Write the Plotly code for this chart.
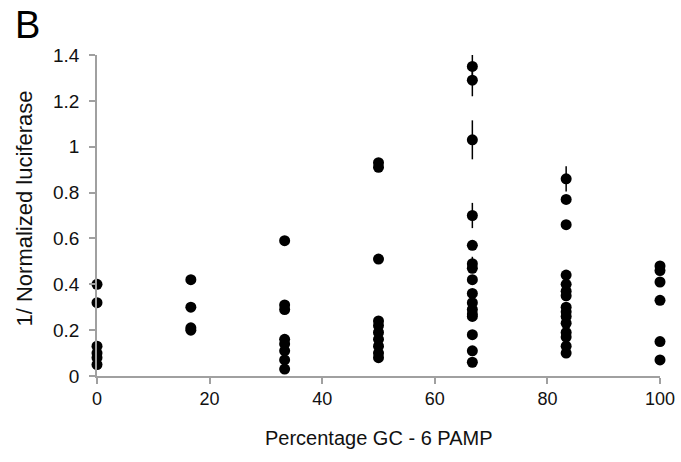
import plotly.graph_objects as go

# GC percentage groups (6 PAMP)
gc_groups = [0, 16.67, 33.33, 50, 66.67, 83.33, 100]

vals_0 = [0.40, 0.32, 0.13, 0.10, 0.08, 0.05]
vals_17 = [0.42, 0.30, 0.21, 0.20]
vals_33 = [0.59, 0.31, 0.29, 0.16, 0.14, 0.11, 0.07, 0.03]
vals_50 = [0.93, 0.91, 0.51, 0.24, 0.22, 0.19, 0.16, 0.13, 0.10, 0.08]
vals_67 = [1.35, 1.29, 1.03, 0.70, 0.57, 0.49, 0.47, 0.42, 0.36, 0.32, 0.29, 0.27, 0.26, 0.18, 0.11, 0.06]
vals_83 = [0.86, 0.77, 0.66, 0.44, 0.40, 0.37, 0.35, 0.30, 0.28, 0.26, 0.23, 0.19, 0.17, 0.13, 0.10]
vals_100 = [0.48, 0.46, 0.41, 0.33, 0.15, 0.07]

err_0 = [0] * 6
err_17 = [0] * 4
err_33 = [0] * 8
err_50 = [0] * 10
err_67 = [0.06, 0.07, 0.085, 0.055, 0, 0.03, 0, 0, 0, 0, 0, 0, 0, 0, 0, 0]
err_83 = [0.055, 0, 0, 0, 0, 0, 0, 0, 0, 0, 0, 0, 0, 0, 0]
err_100 = [0] * 6

x_ticks = [0, 20, 40, 60, 80, 100]
y_ticks = [0, 0.2, 0.4, 0.6, 0.8, 1, 1.2, 1.4]

groups = [vals_0, vals_17, vals_33, vals_50, vals_67, vals_83, vals_100]
errs = [err_0, err_17, err_33, err_50, err_67, err_83, err_100]

xs, ys, es = [], [], []
for g, v, e in zip(gc_groups, groups, errs):
    xs += [g] * len(v)
    ys += v
    es += e

fig = go.Figure()
fig.add_trace(go.Scatter(
    x=xs, y=ys, mode="markers",
    marker=dict(color="black", size=11),
    error_y=dict(type="data", array=es, visible=True, color="black", thickness=1.5, width=0),
    cliponaxis=False, showlegend=False,
))

axis_color = "#a0a0a0"
font_fam = "Liberation Sans, Arial, sans-serif"
txt = "#111111"

fig.update_layout(
    width=681, height=462,
    margin=dict(l=97, r=21, t=55, b=86, autoexpand=False),
    paper_bgcolor="white", plot_bgcolor="white",
    font=dict(family=font_fam, color=txt),
    xaxis=dict(range=[0, 100], tickvals=x_ticks, showgrid=False, zeroline=False,
               showline=True, linecolor=axis_color, linewidth=1.5,
               ticks="outside", ticklen=6, tickcolor=axis_color, tickwidth=1.5,
               automargin=False, ticklabeloverflow="allow", tickfont=dict(size=18)),
    yaxis=dict(range=[0, 1.4], tickvals=y_ticks, showgrid=False, zeroline=False,
               showline=True, linecolor=axis_color, linewidth=1.5,
               ticks="outside", ticklen=6, tickcolor=axis_color, tickwidth=1.5,
               automargin=False, ticklabelstandoff=6, tickfont=dict(size=19)),
    annotations=[
        dict(text="Percentage GC - 6 PAMP", xref="paper", yref="paper", x=0.5, y=0,
             xanchor="center", yanchor="middle", yshift=-62, showarrow=False,
             font=dict(size=20, color=txt)),
        dict(text="1/ Normalized luciferase", xref="paper", yref="paper", x=0, y=0.5,
             xanchor="center", yanchor="middle", xshift=-73, yshift=7, textangle=-90,
             showarrow=False, font=dict(size=22, color=txt)),
        dict(text="B", xref="paper", yref="paper", x=0, y=1, xanchor="left",
             yanchor="middle", xshift=-84, yshift=30, showarrow=False,
             font=dict(size=38, color="black")),
    ],
)

fig.write_html("out.html", config={"displayModeBar": False},
               post_script="document.body.style.margin='0px';")
